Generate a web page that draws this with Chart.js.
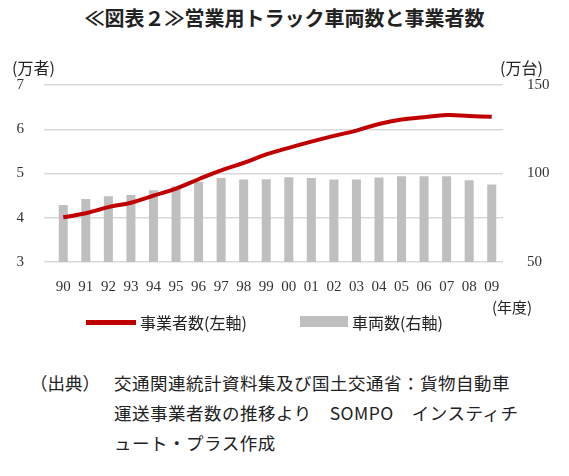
<!DOCTYPE html>
<html><head><meta charset="utf-8">
<script src="https://cdn.jsdelivr.net/npm/chart.js@4"></script>
<style>
body{margin:0;width:569px;height:476px;background:#fff;position:relative;font-family:"Noto Sans CJK JP";overflow:hidden}
.t{position:absolute;white-space:nowrap;color:#222}
</style></head><body>
<div class="t" style="left:0;width:569px;text-align:center;top:3px;font-size:20px;font-weight:bold">≪図表２≫営業用トラック車両数と事業者数</div>
<div style="position:absolute;left:0;top:40px;width:569px;height:270px"><canvas id="c"></canvas></div>
<div class="t" style="left:12px;top:55px;font-size:16px">(万者)</div>
<div class="t" style="left:500px;top:55px;font-size:16px">(万台)</div>
<div class="t" style="left:492px;top:296px;font-size:15px">(年度)</div>
<div style="position:absolute;left:86px;top:320px;width:50px;height:5px;background:#c00000"></div>
<div class="t" style="left:140px;top:310px;font-size:16px">事業者数(左軸)</div>
<div style="position:absolute;left:300px;top:316px;width:48px;height:11px;background:#bfbfbf"></div>
<div class="t" style="left:352px;top:310px;font-size:16px">車両数(右軸)</div>
<div class="t" style="left:30px;top:368px;font-size:17.5px;line-height:30px">（出典）</div>
<div class="t" style="left:114px;top:368px;font-size:17.5px;line-height:30px;letter-spacing:0.5px">交通関連統計資料集及び国土交通省：貨物自動車<br>運送事業者数の推移より　SOMPO　インスティチ<br>ュート・プラス作成</div>
<script>
const years=["90","91","92","93","94","95","96","97","98","99","00","01","02","03","04","05","06","07","08","09"];
const operators=[4.01,4.10,4.24,4.34,4.50,4.66,4.87,5.07,5.24,5.43,5.58,5.72,5.85,5.97,6.12,6.22,6.27,6.32,6.30,6.28];
const vehicles=[82.2,85.6,87.1,87.8,90.6,92.8,95.3,97.4,96.6,96.8,97.9,97.4,96.6,96.6,97.7,98.5,98.5,98.5,96.2,93.8];
const leftTicks=[3,4,5,6,7];
const rightTicks=[50,100,150];
const tf={family:"Liberation Serif",size:15};
new Chart(document.getElementById('c'),{
data:{labels:years,datasets:[
{type:'line',data:operators,yAxisID:'y',borderColor:'#c00000',borderWidth:4,pointRadius:0,tension:0.4,order:0},
{type:'bar',data:vehicles,yAxisID:'y1',backgroundColor:'#bfbfbf',categoryPercentage:1,barPercentage:0.4,order:1}]},
options:{responsive:true,maintainAspectRatio:false,animation:false,
layout:{padding:{top:45,left:0,right:0,bottom:0}},
plugins:{legend:{display:false},tooltip:{enabled:false}},
scales:{
x:{grid:{display:false},border:{display:false},ticks:{color:'#333',font:tf,maxRotation:0,autoSkip:false,padding:8},afterFit(s){s.height=270-45-177;}},
y:{position:'left',min:3,max:7,afterBuildTicks(s){s.ticks=leftTicks.map(v=>({value:v}));},grid:{color:'#d9d9d9',lineWidth:1.5},border:{display:false},ticks:{color:'#333',font:tf,padding:20},afterFit(s){s.width=52;}},
y1:{position:'right',min:50,max:150,afterBuildTicks(s){s.ticks=rightTicks.map(v=>({value:v}));},grid:{display:false},border:{display:false},ticks:{color:'#333',font:tf,padding:16},afterFit(s){s.width=66;}}
}}});
</script></body></html>
